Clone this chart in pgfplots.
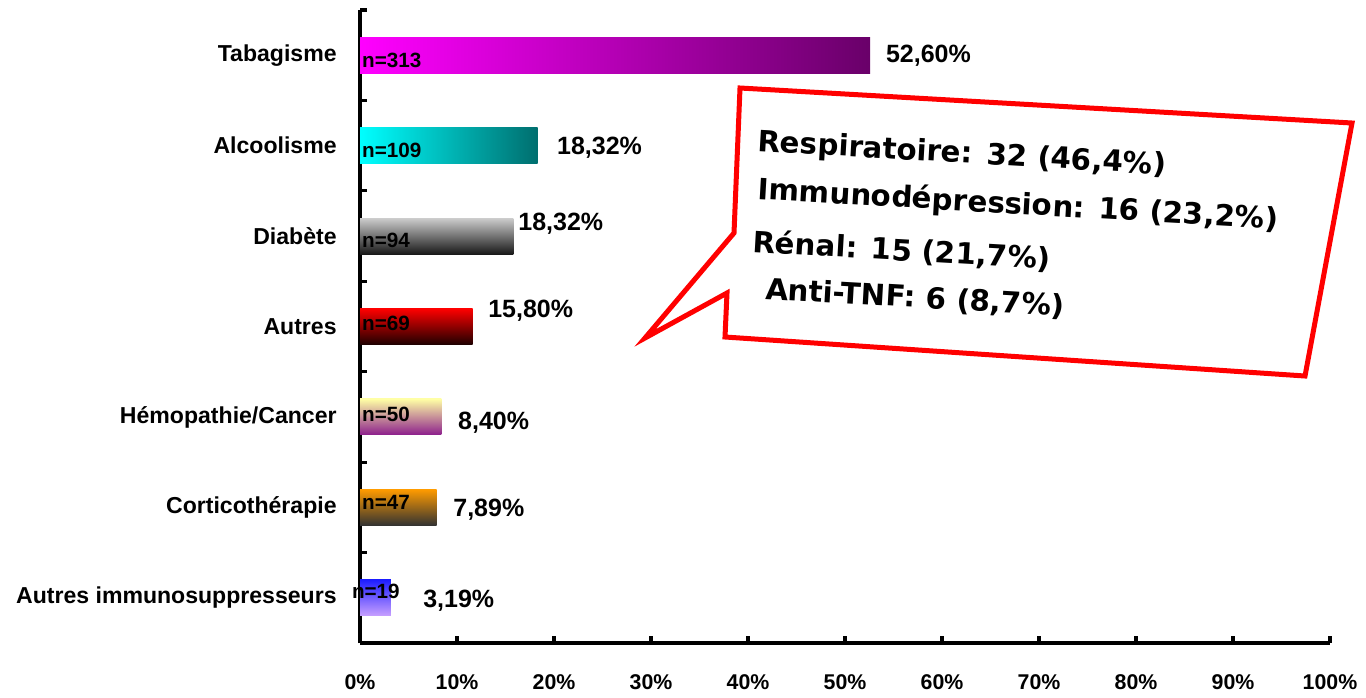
\documentclass[border=0pt]{standalone}
\usepackage{pgfplots}
\pgfplotsset{compat=1.18}
\usepackage{fontspec}
\setmainfont{Liberation Sans}
\newfontfamily\calloutfont{DejaVu Sans}
\definecolor{tabL}{RGB}{255,0,255}
\definecolor{tabR}{RGB}{105,0,105}
\definecolor{alcL}{RGB}{0,255,255}
\definecolor{alcR}{RGB}{0,110,110}
\definecolor{diaT}{RGB}{205,205,205}
\definecolor{diaB}{RGB}{25,25,25}
\definecolor{autT}{RGB}{255,0,0}
\definecolor{autM}{RGB}{215,0,0}
\definecolor{autB}{RGB}{30,0,0}
\definecolor{hemT}{RGB}{255,255,165}
\definecolor{hemM}{RGB}{195,170,160}
\definecolor{hemB}{RGB}{140,30,140}
\definecolor{corT}{RGB}{255,155,0}
\definecolor{corB}{RGB}{50,50,50}
\definecolor{immT}{RGB}{30,30,255}
\definecolor{immB}{RGB}{200,160,255}
\begin{document}
\begin{tikzpicture}
\begin{scope}[x=0.75pt,y=-0.75pt]
\path[use as bounding box] (0,0) rectangle (1366,697);
\end{scope}
\begin{axis}[
  at={(270pt,-482.25pt)}, anchor=south west,
  scale only axis, width=727.5pt, height=474.75pt,
  xmin=0, xmax=100, ymin=-0.5, ymax=6.5,
  axis x line*=bottom, axis y line*=left,
  axis line style={line width=2.6pt,-},
  every outer x axis line/.append style={line width=2.6pt,-},
  every outer y axis line/.append style={line width=2.6pt,-},
  xtick={0,10,...,100},
  xticklabels={0\%,10\%,20\%,30\%,40\%,50\%,60\%,70\%,80\%,90\%,100\%},
  xtick align=inside, ytick align=inside,
  major tick length=5.5pt,
  tick style={black, line width=2.4pt},
  x tick label style={font=\bfseries\fontsize{16pt}{17pt}\selectfont, yshift=-20pt},
  ytick={-0.5,0.5,...,6.5}, yticklabels={},
  extra y ticks={0,1,2,3,4,5,6},
  extra y tick labels={Autres immunosuppresseurs,Corticothérapie,Hémopathie/Cancer,Autres,Diabète,Alcoolisme,Tabagisme},
  extra y tick style={major tick length=0pt, tick style={draw=none},
    yticklabel style={font=\bfseries\fontsize{17.3pt}{18pt}\selectfont, xshift=-14pt}},
  clip=false,
]
\addplot[xbar, bar width=27pt, bar shift=0pt, draw=none, left color=tabL, right color=tabR] coordinates {(52.60,6)};
\addplot[xbar, bar width=27pt, bar shift=0pt, draw=none, left color=alcL, right color=alcR] coordinates {(18.32,5)};
\addplot[xbar, bar width=27pt, bar shift=0pt, draw=none, top color=diaT, bottom color=diaB] coordinates {(15.80,4)};
\addplot[xbar, bar width=27pt, bar shift=0pt, draw=none, top color=autT, middle color=autM, bottom color=autB] coordinates {(11.60,3)};
\addplot[xbar, bar width=27pt, bar shift=0pt, draw=none, top color=hemT, middle color=hemM, bottom color=hemB] coordinates {(8.40,2)};
\addplot[xbar, bar width=27pt, bar shift=0pt, draw=none, top color=corT, bottom color=corB] coordinates {(7.89,1)};
\addplot[xbar, bar width=27pt, bar shift=0pt, draw=none, top color=immT, bottom color=immB] coordinates {(3.19,0)};
% value labels
\begin{scope}[every node/.style={anchor=west, inner sep=0pt, font=\bfseries\fontsize{18.75pt}{20pt}\selectfont}]
\node at (axis cs:54.2,6.0) {52,60\%};
\node at (axis cs:20.3,4.98) {18,32\%};
\node at (axis cs:16.3,4.14) {18,32\%};
\node at (axis cs:13.2,3.17) {15,80\%};
\node at (axis cs:10.1,1.94) {8,40\%};
\node at (axis cs:9.6,0.97) {7,89\%};
\node at (axis cs:6.5,-0.03) {3,19\%};
\end{scope}
% n labels
\begin{scope}[every node/.style={anchor=west, inner sep=0pt, font=\bfseries\fontsize{15.5pt}{16pt}\selectfont}]
\node at (axis cs:0.2,5.94) {n=313};
\node at (axis cs:0.2,4.95) {n=109};
\node at (axis cs:0.2,3.95) {n=94};
\node at (axis cs:0.2,3.03) {n=69};
\node at (axis cs:0.2,2.03) {n=50};
\node at (axis cs:0.2,1.06) {n=47};
\node at (axis cs:-0.85,0.07) {n=19};
\end{scope}
\end{axis}
\begin{scope}[x=0.75pt,y=-0.75pt]
\draw[red, line width=3.75pt, line join=miter, fill=white]
  (740,88) -- (1352,123) -- (1305,376) -- (725,337) -- (727,293) -- (645,338) -- (734,233) -- cycle;
\begin{scope}[every node/.style={anchor=base west, inner sep=0pt, rotate=-3.3, font=\calloutfont\bfseries\fontsize{22pt}{24pt}\selectfont}]
\node at (757,151) {Respiratoire: 32 (46,4\%)};
\node at (757,199) {Immunodépression: 16 (23,2\%)};
\node at (752,252) {Rénal: 15 (21,7\%)};
\node at (765,299) {Anti-TNF: 6 (8,7\%)};
\end{scope}
\end{scope}
\end{tikzpicture}
\end{document}
